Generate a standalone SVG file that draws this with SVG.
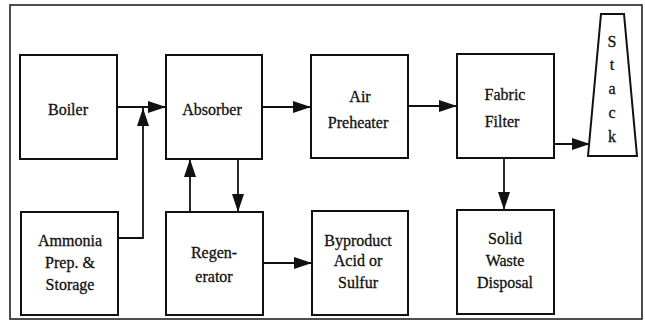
<svg xmlns="http://www.w3.org/2000/svg" width="645" height="322" viewBox="0 0 645 322">
<style>
.box{fill:#fff;stroke:#111;stroke-width:2}
.ln{fill:none;stroke:#111;stroke-width:1.8}
.t{font-family:'Liberation Serif','Times New Roman',serif;font-size:16px;fill:#111;stroke:#111;stroke-width:0.3;text-anchor:middle}
</style>
<defs>
<marker id="ah" markerUnits="userSpaceOnUse" markerWidth="20" markerHeight="14" refX="18" refY="6" orient="auto">
<path d="M0,0 L18,6 L0,12 Z" fill="#111"/>
</marker>
</defs>
<rect x="0" y="0" width="645" height="322" fill="#fff"/>
<rect x="10" y="5" width="632" height="314" fill="none" stroke="#222" stroke-width="1.6"/>
<g id="boiler"><rect class="box" x="20" y="55" width="97" height="104"/><text class="t" x="68" y="115">Boiler</text></g>
<g id="absorber"><rect class="box" x="166" y="55" width="96" height="104"/><text class="t" x="212" y="115">Absorber</text></g>
<g id="airpreheater"><rect class="box" x="311" y="55" width="97" height="103"/><text class="t" x="360" y="102">Air</text><text class="t" x="358" y="128">Preheater</text></g>
<g id="fabricfilter"><rect class="box" x="457" y="54" width="97" height="104"/><text class="t" x="505" y="100">Fabric</text><text class="t" x="502" y="127">Filter</text></g>
<g id="stack"><path class="box" d="M601,14 L624,14 L637,156 L588,156 Z"/>
<text class="t" x="612" y="47">S</text><text class="t" x="612" y="70">t</text><text class="t" x="612" y="94">a</text><text class="t" x="612" y="118">c</text><text class="t" x="612" y="142">k</text></g>
<g id="ammonia"><rect class="box" x="21" y="212" width="97" height="103"/><text class="t" x="70" y="246">Ammonia</text><text class="t" x="70" y="268">Prep. &amp;</text><text class="t" x="70" y="290">Storage</text></g>
<g id="regenerator"><rect class="box" x="166" y="212" width="97" height="103"/><text class="t" x="214" y="258">Regen-</text><text class="t" x="214" y="282">erator</text></g>
<g id="byproduct"><rect class="box" x="312" y="211" width="96" height="104"/><text class="t" x="358" y="246">Byproduct</text><text class="t" x="358" y="266">Acid or</text><text class="t" x="358" y="288">Sulfur</text></g>
<g id="solidwaste"><rect class="box" x="457" y="210" width="97" height="104"/><text class="t" x="505" y="244">Solid</text><text class="t" x="505" y="266">Waste</text><text class="t" x="505" y="288">Disposal</text></g>
<g id="connectors">
<path class="ln" d="M117,107 L166,107" marker-end="url(#ah)"/>
<path class="ln" d="M118,238 L143,238 L143,108" marker-end="url(#ah)"/>
<path class="ln" d="M262,107 L311,107" marker-end="url(#ah)"/>
<path class="ln" d="M408,106 L457,106" marker-end="url(#ah)"/>
<path class="ln" d="M554,144 L590,144" marker-end="url(#ah)"/>
<path class="ln" d="M504,158 L504,210" marker-end="url(#ah)"/>
<path class="ln" d="M190,212 L190,159" marker-end="url(#ah)"/>
<path class="ln" d="M238,159 L238,212" marker-end="url(#ah)"/>
<path class="ln" d="M263,263 L312,263" marker-end="url(#ah)"/>
</g>
</svg>
